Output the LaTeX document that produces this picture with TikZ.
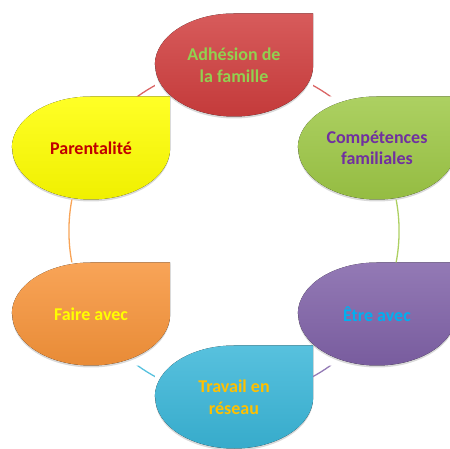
\documentclass[tikz,border=0pt]{standalone}
\usepackage{fontspec}
\setmainfont{Carlito}
\usetikzlibrary{positioning,backgrounds,shadows}

\definecolor{adhred}{RGB}{208,62,62}
\definecolor{compgreen}{RGB}{158,200,70}
\definecolor{etrepurple}{RGB}{128,98,168}
\definecolor{travcyan}{RGB}{58,182,216}
\definecolor{faireorange}{RGB}{247,148,58}
\definecolor{paryellow}{RGB}{255,255,0}
\definecolor{adhtext}{RGB}{146,208,80}
\definecolor{comptext}{RGB}{112,48,160}
\definecolor{etretext}{RGB}{0,176,240}
\definecolor{travtext}{RGB}{255,192,0}
\definecolor{fairetext}{RGB}{255,255,0}
\definecolor{partext}{RGB}{192,0,0}

\begin{document}
\begin{tikzpicture} [every node/.style={minimum width=158pt,minimum height=103pt,inner sep=0pt,align=center,font=\fontsize{18}{21.6}\selectfont\bfseries}, on grid, link/.style={line width=1.3pt}]
\useasboundingbox (-234pt,65pt) rectangle (216pt,-384pt);
\node (adh) [text=adhtext] {Adhésion de\\la famille};
\node (comp) [below right=83pt and 143pt of adh, text=comptext] {Compétences\\familiales};
\node (etre) [below=166pt of comp, text=etretext] {Être avec};
\node (trav) [below left=83pt and 143pt of etre, text=travtext] {Travail en\\réseau};
\node (faire) [above left=83pt and 143pt of trav, text=fairetext] {Faire avec};
\node (par) [above=166pt of faire, text=partext] {Parentalité};

\begin{pgfonlayer}{background}
\foreach \n/\col in {adh/adhred,comp/compgreen,etre/etrepurple,trav/travcyan,faire/faireorange,par/paryellow}
  \fill[top color=\col!85!white, bottom color=\col!94!black, drop shadow={opacity=0.3,shadow xshift=0pt,shadow yshift=-2pt}] (\n.west) arc[start angle=180,end angle=90,x radius=79pt,y radius=51.5pt] -- (\n.north east) -- (\n.east) arc[start angle=0,end angle=-180,x radius=79pt,y radius=51.5pt] -- cycle;
\end{pgfonlayer}

\begin{scope}[even odd rule]
\clip (-234pt,65pt) rectangle (216pt,-384pt) foreach \n in {adh,comp,etre,trav,faire,par} {(\n.south west) rectangle (\n.north east)};
\draw[link,adhred!80!white] (adh.center) to[bend left=30,looseness=0.91] (comp.center);
\draw[link,compgreen!85!white] (comp.center) to[bend left=30,looseness=0.91] (etre.center);
\draw[link,etrepurple!85!white] (etre.center) to[bend left=30,looseness=0.91] (trav.center);
\draw[link,travcyan!85!white] (trav.center) to[bend left=30,looseness=0.91] (faire.center);
\draw[link,faireorange!85!white] (faire.center) to[bend left=30,looseness=0.91] (par.center);
\draw[link,adhred!80!white] (par.center) to[bend left=30,looseness=0.91] (adh.center);
\end{scope}
\end{tikzpicture}
\end{document}
